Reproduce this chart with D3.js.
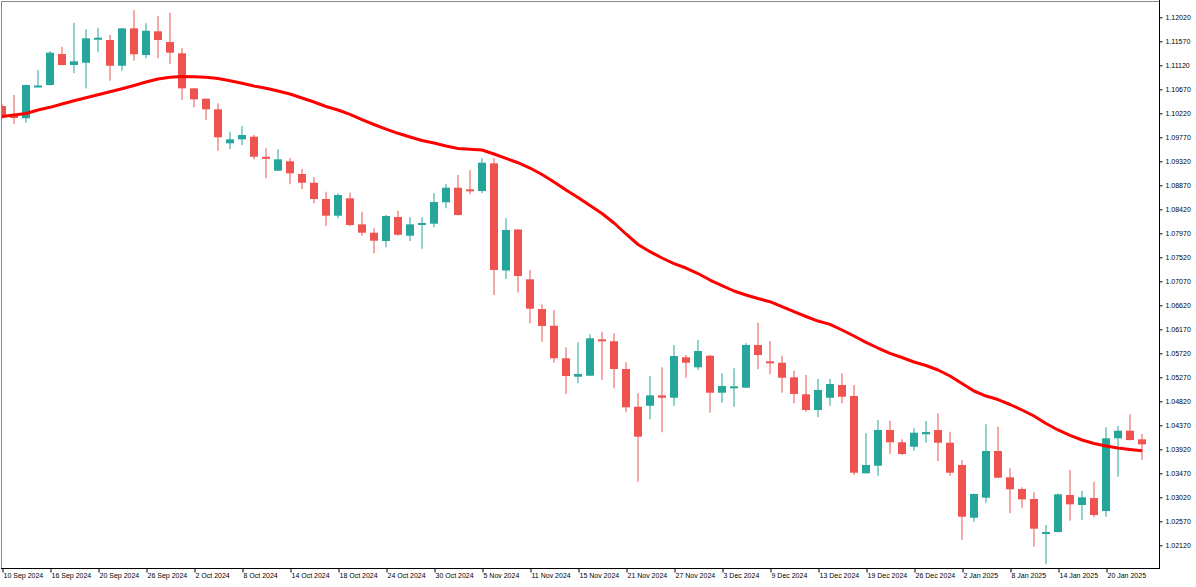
<!DOCTYPE html>
<html>
<head>
	<title>EURUSD Daily</title>
	<meta charset=utf-8>
	<script src="https://d3js.org/d3.v7.min.js"></script>
	<style type="text/css">
		html, body{
			margin: 0;
			padding: 0;
			background: #fff;
		}
		svg{
			display: block;
		}
		.axis text{
			font-family: "Liberation Sans", Arial, sans-serif;
			font-size: 7px;
			fill: #000;
		}
	</style>
</head>
<body>
	<svg id="chart" width="1196" height="587"></svg>

	<script type="text/javascript">
		const dates = [
			'2024-09-10','2024-09-11','2024-09-12','2024-09-13','2024-09-16','2024-09-17','2024-09-18','2024-09-19','2024-09-20','2024-09-23',
			'2024-09-24','2024-09-25','2024-09-26','2024-09-27','2024-09-30','2024-10-01','2024-10-02','2024-10-03','2024-10-04','2024-10-07',
			'2024-10-08','2024-10-09','2024-10-10','2024-10-11','2024-10-14','2024-10-15','2024-10-16','2024-10-17','2024-10-18','2024-10-21',
			'2024-10-22','2024-10-23','2024-10-24','2024-10-25','2024-10-28','2024-10-29','2024-10-30','2024-10-31','2024-11-01','2024-11-04',
			'2024-11-05','2024-11-06','2024-11-07','2024-11-08','2024-11-11','2024-11-12','2024-11-13','2024-11-14','2024-11-15','2024-11-18',
			'2024-11-19','2024-11-20','2024-11-21','2024-11-22','2024-11-25','2024-11-26','2024-11-27','2024-11-28','2024-11-29','2024-12-02',
			'2024-12-03','2024-12-04','2024-12-05','2024-12-06','2024-12-09','2024-12-10','2024-12-11','2024-12-12','2024-12-13','2024-12-16',
			'2024-12-17','2024-12-18','2024-12-19','2024-12-20','2024-12-23','2024-12-24','2024-12-26','2024-12-27','2024-12-30','2024-12-31',
			'2025-01-02','2025-01-03','2025-01-06','2025-01-07','2025-01-08','2025-01-09','2025-01-10','2025-01-13','2025-01-14','2025-01-15',
			'2025-01-16','2025-01-17','2025-01-20','2025-01-21','2025-01-22','2025-01-23'
		];

		const open = [
			1.10357,1.10169,1.10126,1.10726,1.10750,1.11332,1.11125,1.11168,1.11613,1.11594,
			1.11112,1.11813,1.11313,1.11757,1.11557,1.11345,1.10688,1.10493,1.10295,1.09657,
			1.09732,1.09781,1.09404,1.09143,1.09320,1.09082,1.08918,1.08613,1.08300,1.08626,
			1.08138,1.07981,1.07825,1.08275,1.07925,1.08150,1.08150,1.08551,1.08825,1.08795,
			1.08763,1.09282,1.07272,1.08041,1.07107,1.06550,1.06237,1.05626,1.05281,1.05300,
			1.05982,1.05946,1.05425,1.04718,1.04737,1.04932,1.04887,1.05645,1.05457,1.05675,
			1.04981,1.05082,1.05075,1.05875,1.05570,1.05543,1.05270,1.04951,1.04657,1.04887,
			1.05125,1.04919,1.03470,1.03612,1.04282,1.04051,1.03968,1.04201,1.04282,1.04043,
			1.03625,1.02637,1.03012,1.03888,1.03395,1.03175,1.02988,1.02337,1.02369,1.03063,
			1.02875,1.03007,1.02763,1.04126,1.04268,1.04107
		];

		const high = [
			1.10394,1.10563,1.10760,1.11032,1.11388,1.11468,1.11918,1.11795,1.11825,1.11688,
			1.11819,1.12157,1.11907,1.12044,1.12106,1.11438,1.10694,1.10497,1.10407,1.09875,
			1.09982,1.09813,1.09563,1.09545,1.09382,1.09175,1.09020,1.08750,1.08720,1.08731,
			1.08375,1.08063,1.08313,1.08393,1.08270,1.08270,1.08720,1.08894,1.09063,1.09157,
			1.09376,1.09376,1.08251,1.08050,1.07282,1.06638,1.06532,1.05832,1.05926,1.06076,
			1.06125,1.06095,1.05551,1.04970,1.05294,1.05457,1.05875,1.05688,1.05969,1.05688,
			1.05345,1.05438,1.05907,1.06293,1.05950,1.05675,1.05393,1.05313,1.05238,1.05238,
			1.05345,1.05125,1.04220,1.04469,1.04456,1.04107,1.04313,1.04450,1.04595,1.04250,
			1.03719,1.03090,1.04388,1.04343,1.03563,1.03207,1.03113,1.02500,1.03090,1.03532,
			1.03143,1.03312,1.04332,1.04357,1.04576,1.04207
		];

		const low = [
			1.10113,1.10019,1.10043,1.10707,1.10741,1.11116,1.10970,1.10688,1.11363,1.10831,
			1.11018,1.11206,1.11251,1.11251,1.11144,1.10469,1.10332,1.10094,1.09518,1.09545,
			1.09620,1.09357,1.09001,1.09138,1.08888,1.08800,1.08532,1.08107,1.08251,1.08107,
			1.07925,1.07595,1.07707,1.07925,1.07825,1.07681,1.08082,1.08438,1.08303,1.08701,
			1.08720,1.06813,1.07113,1.06860,1.06282,1.05937,1.05543,1.04957,1.05157,1.05294,
			1.05219,1.05063,1.04613,1.03312,1.04482,1.04238,1.04732,1.05262,1.05407,1.04606,
			1.04793,1.04718,1.05069,1.05420,1.05326,1.04981,1.04782,1.04625,1.04520,1.04737,
			1.04782,1.03438,1.03462,1.03425,1.03832,1.03813,1.03893,1.04043,1.03700,1.03419,
			1.02219,1.02562,1.02918,1.03382,1.02720,1.02825,1.02093,1.01763,1.02360,1.02581,
			1.02594,1.02645,1.02656,1.03406,1.04085,1.03719
		];

		const close = [
			1.10145,1.10150,1.10750,1.10741,1.11356,1.11125,1.11195,1.11626,1.11637,1.11112,
			1.11813,1.11326,1.11768,1.11594,1.11356,1.10688,1.10482,1.10295,1.09770,1.09732,
			1.09813,1.09406,1.09385,1.09357,1.09095,1.08918,1.08613,1.08300,1.08688,1.08125,
			1.07981,1.07831,1.08294,1.07943,1.08138,1.08163,1.08557,1.08825,1.08313,1.08768,
			1.09293,1.07282,1.08032,1.07169,1.06556,1.06232,1.05626,1.05294,1.05332,1.06001,
			1.05956,1.05425,1.04707,1.04156,1.04932,1.04887,1.05669,1.05543,1.05763,1.04981,
			1.05107,1.05101,1.05875,1.05688,1.05532,1.05262,1.04957,1.04657,1.05032,1.05144,
			1.04906,1.03481,1.03625,1.04282,1.04051,1.03832,1.04231,1.04244,1.04043,1.03481,
			1.02656,1.03082,1.03888,1.03387,1.03170,1.02982,1.02431,1.02369,1.03076,1.02888,
			1.03020,1.02688,1.04126,1.04268,1.04094,1.04013
		];

		// moving average
		const ma = [
			1.10160,1.10188,1.10216,1.10282,1.10332,1.10394,1.10456,1.10512,1.10568,1.10625,
			1.10681,1.10741,1.10807,1.10863,1.10895,1.10910,1.10906,1.10895,1.10872,1.10831,
			1.10782,1.10732,1.10690,1.10638,1.10582,1.10507,1.10432,1.10347,1.10282,1.10201,
			1.10103,1.10010,1.09925,1.09845,1.09775,1.09710,1.09663,1.09607,1.09560,1.09545,
			1.09532,1.09457,1.09376,1.09293,1.09194,1.09072,1.08932,1.08782,1.08641,1.08491,
			1.08341,1.08163,1.07957,1.07760,1.07625,1.07507,1.07403,1.07319,1.07216,1.07094,
			1.06991,1.06888,1.06813,1.06747,1.06687,1.06597,1.06500,1.06410,1.06325,1.06263,
			1.06157,1.06044,1.05926,1.05819,1.05720,1.05641,1.05557,1.05491,1.05407,1.05294,
			1.05153,1.05013,1.04919,1.04853,1.04760,1.04657,1.04544,1.04403,1.04282,1.04182,
			1.04094,1.04028,1.03982,1.03944,1.03916,1.03893
		];

		const yTicks = [
			1.02120,1.02570,1.03020,1.03470,1.03920,1.04370,1.04820,1.05270,1.05720,1.06170,1.06620,
			1.07070,1.07520,1.07970,1.08420,1.08870,1.09320,1.09770,1.10220,1.10670,1.11120,1.11570,1.12020
		];

		const xTicks = [
			'2024-09-10','2024-09-16','2024-09-20','2024-09-26','2024-10-02','2024-10-08','2024-10-14','2024-10-18',
			'2024-10-24','2024-10-30','2024-11-05','2024-11-11','2024-11-15','2024-11-21','2024-11-27','2024-12-03',
			'2024-12-09','2024-12-13','2024-12-19','2024-12-26','2025-01-02','2025-01-08','2025-01-14','2025-01-20'
		];

		const bull = '#26a69a';
		const bear = '#ef5350';

		const plotLeft = 2, plotTop = 2, plotRight = 1160, plotBottom = 569;

		const candles = dates.map(function(d, i){
			return {date: d, o: open[i], h: high[i], l: low[i], c: close[i]};
		});

		const x = d3.scalePoint()
			.domain(dates)
			.range([2, 1142]);

		const y = d3.scaleLinear()
			.domain([1.02120, 1.12020])
			.range([545.3, 17.3]);

		const svg = d3.select('#chart');

		svg.append('defs')
			.append('clipPath')
			.attr('id', 'plot')
			.append('rect')
			.attr('x', plotLeft)
			.attr('y', plotTop)
			.attr('width', plotRight - plotLeft)
			.attr('height', plotBottom - plotTop);

		const plot = svg.append('g')
			.attr('clip-path', 'url(#plot)');

		const bar = plot.selectAll('g.candle')
			.data(candles)
			.enter()
			.append('g')
			.attr('class', 'candle');

		// wicks
		bar.append('line')
			.attr('x1', d => x(d.date))
			.attr('x2', d => x(d.date))
			.attr('y1', d => y(d.h))
			.attr('y2', d => y(d.l))
			.attr('stroke', d => d.c >= d.o ? bull : bear)
			.attr('stroke-opacity', 0.5)
			.attr('stroke-width', 2);

		// bodies
		bar.append('rect')
			.attr('x', d => x(d.date) - 4)
			.attr('width', 8)
			.attr('y', d => y(Math.max(d.o, d.c)))
			.attr('height', d => Math.max(2, Math.abs(y(d.o) - y(d.c))))
			.attr('fill', d => d.c >= d.o ? bull : bear);

		const line = d3.line()
			.x((d, i) => x(dates[i]))
			.y(d => y(d));

		plot.append('path')
			.datum(ma)
			.attr('d', line)
			.attr('fill', 'none')
			.attr('stroke', '#ff0000')
			.attr('stroke-width', 3)
			.attr('stroke-linejoin', 'round');

		// frame
		svg.append('line')
			.attr('x1', plotLeft - 0.5).attr('x2', plotRight)
			.attr('y1', plotTop - 0.5).attr('y2', plotTop - 0.5)
			.attr('stroke', '#888');
		svg.append('line')
			.attr('x1', plotLeft - 0.5).attr('x2', plotLeft - 0.5)
			.attr('y1', plotTop - 0.5).attr('y2', plotBottom)
			.attr('stroke', '#888');
		svg.append('line')
			.attr('x1', plotRight - 0.5).attr('x2', plotRight - 0.5)
			.attr('y1', 0).attr('y2', plotBottom)
			.attr('stroke', '#000');
		svg.append('line')
			.attr('x1', plotLeft - 1).attr('x2', plotRight)
			.attr('y1', plotBottom - 0.5).attr('y2', plotBottom - 0.5)
			.attr('stroke', '#000');

		const yAxis = d3.axisRight(y)
			.tickValues(yTicks)
			.tickSize(3)
			.tickPadding(3)
			.tickFormat(d => d.toFixed(5));

		svg.append('g')
			.attr('class', 'axis')
			.attr('transform', `translate(${plotRight - 0.5}, 0)`)
			.call(yAxis)
			.call(g => g.select('.domain').remove())
			.call(g => g.selectAll('.tick line').attr('stroke', '#000'))
			.attr('font-size', null)
			.attr('font-family', null);

		const fmt = d3.timeFormat('%-d %b %Y');
		const parse = d3.timeParse('%Y-%m-%d');

		const xAxis = d3.axisBottom(x)
			.tickValues(xTicks)
			.tickSize(4)
			.tickFormat(d => fmt(parse(d)));

		svg.append('g')
			.attr('class', 'axis')
			.attr('transform', `translate(0, ${plotBottom - 0.5})`)
			.call(xAxis)
			.call(g => g.select('.domain').remove())
			.call(g => g.selectAll('.tick line').attr('stroke', '#000').attr('transform', 'translate(0.5,0)'))
			.call(g => g.selectAll('.tick text')
				.attr('text-anchor', 'start')
				.attr('x', 1)
				.attr('y', 5))
			.attr('font-size', null)
			.attr('font-family', null);
	</script>
</body>
</html>
